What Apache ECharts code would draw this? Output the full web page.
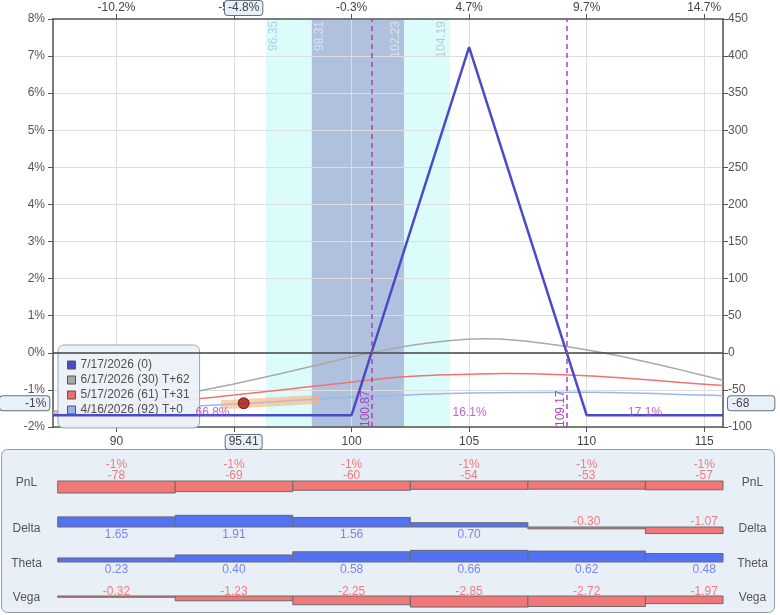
<!DOCTYPE html>
<html><head><meta charset="utf-8">
<script src="https://cdn.jsdelivr.net/npm/echarts@6/dist/echarts.min.js"></script>
<style>html,body{margin:0;padding:0;background:#fff}#c{width:780px;height:615px}</style>
</head><body><div id="c"></div>
<script>
// ---------- data ----------
const seriesNames = ['7/17/2026 (0)', '6/17/2026 (30) T+62', '5/17/2026 (61) T+31', '4/16/2026 (92) T+0'];
const expPrices = [87.3, 100, 105, 110, 115.8];
const expPnl    = [-84, -84, 412, -84, -84];
const t62Prices = [87.3, 89, 91, 93.1, 95, 97, 99, 100.8, 102.5, 104, 105.6, 107, 108.7, 110.7, 112.5, 114, 115.8];
const t62Pnl    = [-82, -77, -67, -54, -42, -28, -13, 0, 10, 16, 19, 17, 10.5, 0, -12, -23, -37];
const t31Prices = [87.3, 90, 93.1, 95, 97, 99, 101.6, 103, 105, 106.5, 108, 110, 112, 114, 115.8];
const t31Pnl    = [-79, -72, -63, -57, -50, -43, -34, -31, -29, -28, -28.5, -31, -35, -40, -44];
const t0Prices  = [87.3, 90, 95, 100, 105, 110, 115, 115.8];
const t0Pnl     = [-83, -78, -69, -60, -54, -53, -57, -58];
const currentPrice = 95.41;
const currentPnl = -68;
const movePrices = [94.45, 98.63];
const movePnl = [-70, -62.5];
const outerBand = [96.35, 104.19];
const innerBand = [98.31, 102.23];
const breakevens = [100.87, 109.17];
const probLabels = ['66.8%', '16.1%', '17.1%'];
const yTicks = [-100, -50, 0, 50, 100, 150, 200, 250, 300, 350, 400, 450];
const leftLabels = ['-2%', '-1%', '0%', '1%', '2%', '3%', '4%', '4%', '5%', '6%', '7%', '8%'];
const topTicks = [90, 95, 100, 105, 110, 115];
const topLabels = ['-10.2%', '-5.3%', '-0.3%', '4.7%', '9.7%', '14.7%'];
const topPointerLabel = '-4.8%';
const leftPointerLabel = '-1%';
// bottom panel
const bucketCenters = [90, 95, 100, 105, 110, 115];
const pnlVals  = [-78, -69, -60, -54, -53, -57];
const pnlPct   = ['-1%', '-1%', '-1%', '-1%', '-1%', '-1%'];
const deltaVals = [1.65, 1.91, 1.56, 0.70, -0.30, -1.07];
const thetaVals = [0.23, 0.40, 0.58, 0.66, 0.62, 0.48];
const vegaVals  = [-0.32, -1.23, -2.25, -2.85, -2.72, -1.97];
const rowNames = ['PnL', 'Delta', 'Theta', 'Vega'];

// ---------- style ----------
const X_MIN = 87.3, X_MAX = 115.8, BUCKET = 5;
const FONT = 'Liberation Sans, Arial, sans-serif';
const PURPLE = '#a943b8';
const zip = (a, b) => a.map((v, i) => [v, b[i]]);
const axisLineStyle = { color: '#555', width: 1.5 };
const gridL = 53, gridW = 670;
const rowBase = [481, 527, 562, 596];
const rowRange = [78, 1.96, 0.68, 3.1];
const ptrLabel = { show: true, backgroundColor: '#e8f0f9', borderColor: '#66707e', borderWidth: 1, color: '#444', fontSize: 12, fontFamily: FONT };

const chart = echarts.init(document.getElementById('c'));

const grids = [{ left: gridL, top: 19, width: gridW, height: 408 }];
rowBase.forEach(b => grids.push({ left: gridL, top: b - 12, width: gridW, height: 24 }));

const xAxes = [
  { type: 'value', gridIndex: 0, min: X_MIN, max: X_MAX, minInterval: 5, maxInterval: 5, position: 'bottom', z: 1.5,
    axisLine: { onZero: false, lineStyle: axisLineStyle },
    axisTick: { length: 5, lineStyle: { color: '#555' } },
    axisLabel: { color: '#444', fontSize: 12, margin: 9, showMinLabel: false, showMaxLabel: false },
    splitLine: { show: true, lineStyle: { color: '#dedede' } },
    axisPointer: { show: true, value: currentPrice, status: 'show', snap: false, triggerTooltip: false,
      lineStyle: { opacity: 0 },
      label: Object.assign({}, ptrLabel, { margin: 8, padding: [1, 3, 1, 3], formatter: p => Number(p.value).toFixed(2) }) } },
  { type: 'value', gridIndex: 0, min: X_MIN, max: X_MAX, minInterval: 5, maxInterval: 5, position: 'top', z: 1.5,
    axisLine: { onZero: false, lineStyle: axisLineStyle },
    axisTick: { length: 5, lineStyle: { color: '#555' } },
    axisLabel: { color: '#444', fontSize: 12, margin: 5, showMinLabel: false, showMaxLabel: false,
      formatter: v => { const i = topTicks.indexOf(v); return i >= 0 ? topLabels[i] : ''; } },
    splitLine: { show: false },
    axisPointer: { show: true, value: currentPrice, status: 'show', snap: false, triggerTooltip: false,
      lineStyle: { opacity: 0 },
      label: Object.assign({}, ptrLabel, { margin: 4, padding: [1, 3, 1, 3], formatter: () => topPointerLabel }) } }
];
const yAxes = [
  { type: 'value', gridIndex: 0, min: -100, max: 450, interval: 50, position: 'left', z: 1.5,
    axisLine: { show: true, onZero: false, lineStyle: axisLineStyle },
    axisTick: { show: true, length: 5, lineStyle: { color: '#555' } },
    axisLabel: { color: '#555', fontSize: 12, margin: 8, formatter: v => leftLabels[yTicks.indexOf(v)] },
    splitLine: { show: true, lineStyle: { color: '#dedede' } },
    axisPointer: { show: true, value: currentPnl, status: 'show', snap: false, triggerTooltip: false,
      lineStyle: { opacity: 0 },
      label: Object.assign({}, ptrLabel, { margin: 5, padding: [1, 3, 1, 25], formatter: () => leftPointerLabel }) } },
  { type: 'value', gridIndex: 0, min: -100, max: 450, interval: 50, position: 'right', z: 1.5,
    axisLine: { show: true, onZero: false, lineStyle: axisLineStyle },
    axisTick: { show: true, length: 5, lineStyle: { color: '#555' } },
    axisLabel: { color: '#555', fontSize: 12, margin: 5 },
    splitLine: { show: false },
    axisPointer: { show: true, value: currentPnl, status: 'show', snap: false, triggerTooltip: false,
      lineStyle: { opacity: 0 },
      label: Object.assign({}, ptrLabel, { margin: 5, padding: [1, 25, 1, 4], formatter: p => Math.round(p.value) }) } }
];
rowBase.forEach((b, i) => {
  xAxes.push({ type: 'value', gridIndex: i + 1, min: X_MIN, max: X_MAX, show: false });
  yAxes.push({ type: 'value', gridIndex: i + 1, min: -rowRange[i], max: rowRange[i], show: false });
});

function rowSeries(ri, vals, fmt, extraTop) {
  return {
    type: 'custom', xAxisIndex: ri + 2, yAxisIndex: ri + 2, silent: true, clip: false, z: 3,
    data: bucketCenters.map((c, i) => [c, vals[i], i]),
    renderItem: (params, api) => {
      const c = api.value(0), v = api.value(1), i = api.value(2);
      const x0 = Math.max(c - BUCKET / 2, X_MIN), x1 = Math.min(c + BUCKET / 2, X_MAX);
      const p0 = api.coord([x0, 0]), p1 = api.coord([x1, v]), pc = api.coord([c, 0]);
      const neg = v < 0;
      const barCol = neg ? '#f27878' : '#5272f2';
      const txtCol = neg ? '#f27c7c' : '#7886f2';
      const h = Math.max(Math.abs(p1[1] - p0[1]), 1);
      const children = [{ type: 'rect', shape: { x: p0[0], y: neg ? p0[1] : p0[1] - h, width: p1[0] - p0[0], height: h },
        style: { fill: barCol, stroke: '#6a6a6a', lineWidth: 1 } }];
      const off = neg ? (ri === 3 ? -4 : -5) : 8;
      children.push({ type: 'text', x: pc[0], y: pc[1] + off, z2: 10,
        style: { text: fmt(v), fill: txtCol, fontSize: 12, fontFamily: FONT, align: 'center', verticalAlign: 'middle' } });
      if (extraTop) children.push({ type: 'text', x: pc[0], y: pc[1] - 16, z2: 10,
        style: { text: extraTop[i], fill: txtCol, fontSize: 12, fontFamily: FONT, align: 'center', verticalAlign: 'middle' } });
      return { type: 'group', children };
    }
  };
}

const probX = [(X_MIN + breakevens[0]) / 2, (breakevens[0] + breakevens[1]) / 2, (breakevens[1] + X_MAX) / 2];

const option = {
  animation: false,
  textStyle: { fontFamily: FONT },
  axisPointer: { triggerOn: 'none' },
  grid: grids,
  xAxis: xAxes,
  yAxis: yAxes,
  legend: {
    data: seriesNames, orient: 'vertical', left: 58, top: 345, selectedMode: false,
    icon: 'rect', itemWidth: 8, itemHeight: 8, itemGap: 3,
    padding: [14, 10, 12, 9], backgroundColor: 'rgba(236,241,248,0.93)', borderColor: '#9aa6b8', borderWidth: 1, borderRadius: 6,
    itemStyle: { borderColor: '#555', borderWidth: 1 },
    textStyle: { color: '#505050', fontSize: 12, fontFamily: FONT }
  },
  graphic: [
    { type: 'rect', z: -10, shape: { x: 1.5, y: 449.5, width: 773, height: 163, r: 6 }, style: { fill: '#e9eff7', stroke: '#8d9bb2', lineWidth: 1 } },
    ...rowNames.map((n, i) => ({ type: 'text', x: 26.5, y: rowBase[i] + 2, style: { text: n, fill: '#555', fontSize: 12, fontFamily: FONT, align: 'center', verticalAlign: 'middle' } })),
    ...rowNames.map((n, i) => ({ type: 'text', x: 752.5, y: rowBase[i] + 2, style: { text: n, fill: '#555', fontSize: 12, fontFamily: FONT, align: 'center', verticalAlign: 'middle' } }))
  ],
  series: [
    { type: 'line', name: 'bands', data: [], z: 1, silent: true,
      markArea: { silent: true, data: [
        [{ xAxis: outerBand[0], itemStyle: { color: '#dcfcfc' } }, { xAxis: outerBand[1] }],
        [{ xAxis: innerBand[0], itemStyle: { color: '#b0c1dd' } }, { xAxis: innerBand[1] }]
      ] },
      markLine: { silent: true, symbol: 'none', lineStyle: { color: 'rgba(0,0,0,0)', width: 0 },
        label: { show: true, fontSize: 12, fontFamily: FONT, distance: 2 },
        data: [
          { xAxis: outerBand[0], label: { position: 'insideEndBottom', color: '#a6d4e6' } },
          { xAxis: innerBand[0], label: { position: 'insideEndBottom', color: '#dbe3f0' } },
          { xAxis: innerBand[1], label: { position: 'insideEndTop', color: '#dbe3f0' } },
          { xAxis: outerBand[1], label: { position: 'insideEndTop', color: '#b3cad8' } }
        ] } },
    { type: 'line', name: seriesNames[1], data: zip(t62Prices, t62Pnl), showSymbol: false, symbol: 'none', smooth: 0.35, z: 3,
      itemStyle: { color: '#a9a9a9' }, lineStyle: { color: '#a9a9a9', width: 1.5 } },
    { type: 'line', name: seriesNames[2], data: zip(t31Prices, t31Pnl), showSymbol: false, symbol: 'none', smooth: 0.35, z: 3,
      itemStyle: { color: '#f26c6c' }, lineStyle: { color: '#f27272', width: 1.5 } },
    { type: 'line', name: seriesNames[3], data: zip(t0Prices, t0Pnl), showSymbol: false, symbol: 'none', smooth: 0.35, z: 3,
      itemStyle: { color: '#8fb0f2' }, lineStyle: { color: '#98b7f2', width: 1.5 } },
    { type: 'line', name: 'move', data: zip(movePrices, movePnl), showSymbol: false, symbol: 'none', z: 3, silent: true,
      lineStyle: { color: 'rgba(246,176,126,0.6)', width: 9 } },
    { type: 'line', name: seriesNames[0], data: zip(expPrices, expPnl), showSymbol: false, symbol: 'none', z: 4,
      itemStyle: { color: '#4b4bc9' }, lineStyle: { color: '#4b4bc9', width: 2.5 },
      markLine: { silent: true, symbol: 'none', data: [
        { yAxis: 0, lineStyle: { color: '#444', type: 'solid', width: 1.5 }, label: { show: false } },
        ...breakevens.map(b => ({ xAxis: b, lineStyle: { color: PURPLE, type: [5, 4], width: 1.5 },
          label: { position: 'insideStartTop', color: PURPLE, fontSize: 12, fontFamily: FONT, distance: 0 } }))
      ] } },
    { type: 'scatter', name: 'probs', data: probX.map((x, i) => [x, -81, i]), symbolSize: 1, z: 5, silent: true,
      itemStyle: { color: 'rgba(0,0,0,0)' },
      label: { show: true, position: 'inside', color: PURPLE, fontSize: 12, fontFamily: FONT, formatter: p => probLabels[p.value[2]] } },
    { type: 'scatter', name: 'current', data: [[currentPrice, currentPnl]], symbolSize: 11, z: 6, silent: true,
      itemStyle: { color: '#a51414', borderColor: '#5a0000', borderWidth: 1 } },
    rowSeries(0, pnlVals, v => String(Math.round(v)), pnlPct),
    rowSeries(1, deltaVals, v => v.toFixed(2)),
    rowSeries(2, thetaVals, v => v.toFixed(2)),
    rowSeries(3, vegaVals, v => v.toFixed(2))
  ]
};
chart.setOption(option);
</script></body></html>
